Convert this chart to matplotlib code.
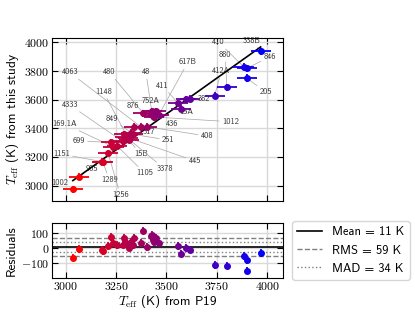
import numpy as np
import matplotlib
matplotlib.use('Agg')
import matplotlib.pyplot as plt
from matplotlib.colors import LinearSegmentedColormap
from matplotlib.ticker import FuncFormatter

# star names, Teff from P19 and Teff from this study (K)
names = ['1002', '905', '1151', '1289', '1256', '699', '169.1A', '1105', '4333',
         '15B', '445', '3378', '1148', '849', '251', '317', '4063', '480', '408',
         '876', '48', '752A', '1012', '436', '617B', '411', '15A', '382', '',
         '412A', '880', '410', '846', '205', '338B']
teff_p19 = [3035, 3066, 3178, 3184, 3210, 3227, 3237, 3255, 3283,
            3289, 3296, 3307, 3314, 3325, 3333, 3340, 3373, 3386, 3403,
            3422, 3427, 3434, 3439, 3447, 3463, 3559, 3573, 3598, 3616,
            3739, 3800, 3883, 3899, 3899, 3968]
teff_this = [2973, 3063, 3168, 3164, 3227, 3302, 3270, 3277, 3308,
             3358, 3341, 3332, 3319, 3370, 3358, 3412, 3410, 3504, 3411,
             3502, 3519, 3489, 3479, 3519, 3496, 3574, 3538, 3603, 3608,
             3627, 3685, 3831, 3819, 3751, 3938]
err_p19 = 50
err_this = 25

# where the star labels sit
label_xy = [(2970, 3021), (3130, 3116), (2979, 3219), (3217, 3040), (3271, 2935),
            (3064, 3311), (2995, 3430), (3393, 3086), (3020, 3563), (3373, 3219),
            (3641, 3172), (3491, 3116), (3187, 3655), (3228, 3463), (3509, 3318),
            (3411, 3376), (3020, 3790), (3217, 3790), (3702, 3346), (3335, 3555),
            (3398, 3790), (3422, 3590), (3817, 3446), (3529, 3428), (3606, 3860),
            (3480, 3697), (3600, 3514), (3685, 3602), None, (3772, 3797),
            (3792, 3911), (3759, 4000), (4014, 3899), (3994, 3651), (3923, 4011)]

# summary statistics quoted in the legend
mean_res = 11
rms_res = 59
mad_res = 34

plt.rcParams['font.family'] = ['cmss10', 'DejaVu Sans']
plt.rcParams['mathtext.fontset'] = 'cm'
plt.rcParams['axes.formatter.use_mathtext'] = True

x = np.array(teff_p19)
y = np.array(teff_this)
res = y - x

cmap = LinearSegmentedColormap.from_list('rb', ['red', 'blue'])
colors = cmap((x - x.min()) / (x.max() - x.min()))

fig = plt.figure(figsize=(4.15, 3.12), dpi=100)
ax = fig.add_axes([0.125, 0.356, 0.557, 0.522])
axr = fig.add_axes([0.125, 0.109, 0.557, 0.176])

mathfmt = FuncFormatter(lambda v, p: r'$%d$' % v)

# top panel
ax.plot([x.min(), x.max()], [x.min(), x.max()], color='k', lw=1.2, zorder=3)
for i in range(len(x)):
    ax.errorbar(x[i], y[i], xerr=err_p19, yerr=err_this, fmt='o', ms=4,
                color=colors[i], elinewidth=1.3, capsize=0, zorder=4)
    if label_xy[i] is not None:
        ax.annotate(names[i], xy=(x[i], y[i]), xytext=label_xy[i],
                    ha='center', va='center', fontsize=6, color='0.2',
                    arrowprops=dict(arrowstyle='-', color='0.65', lw=0.5,
                                    shrinkA=0, shrinkB=0), zorder=2)
ax.set_xlim(2931, 4079)
ax.set_ylim(2893, 4030)
ax.set_xticks([3000, 3250, 3500, 3750, 4000])
ax.set_yticks([3000, 3200, 3400, 3600, 3800, 4000])
ax.set_xticklabels([])
ax.yaxis.set_major_formatter(mathfmt)
ax.set_ylabel(r'$T_{\rm eff}$ (K) from this study', fontsize=9.5, labelpad=2)

# residual panel
for i in range(len(x)):
    axr.errorbar(x[i], res[i], yerr=err_this, fmt='o', ms=4,
                 color=colors[i], elinewidth=1.3, capsize=0, zorder=4)
axr.axhline(mean_res, color='k', lw=1.2, label='Mean = %d K' % mean_res)
axr.axhline(mean_res + rms_res, color='0.5', lw=1, ls='--', label='RMS = %d K' % rms_res)
axr.axhline(mean_res - rms_res, color='0.5', lw=1, ls='--')
axr.axhline(mean_res + mad_res, color='0.5', lw=1, ls=':', label='MAD = %d K' % mad_res)
axr.axhline(mean_res - mad_res, color='0.5', lw=1, ls=':')
axr.set_xlim(2931, 4079)
axr.set_ylim(-198, 169)
axr.set_xticks([3000, 3250, 3500, 3750, 4000])
axr.set_yticks([-100, 0, 100])
axr.xaxis.set_major_formatter(mathfmt)
axr.yaxis.set_major_formatter(mathfmt)
axr.set_ylabel('Residuals', fontsize=9.5, labelpad=2)
axr.set_xlabel(r'$T_{\rm eff}$ (K) from P19', fontsize=9.5, labelpad=0)
axr.legend(loc='center left', bbox_to_anchor=(1.04, 0.5), fontsize=9,
           handlelength=2.0, borderaxespad=0)

for a in (ax, axr):
    a.grid(True, color='#d9d9d9', lw=1, zorder=0)
    a.set_axisbelow(True)
    a.tick_params(direction='in', top=True, right=True, length=4, labelsize=8.5, pad=2)

fig.savefig('out.png', dpi=100)
